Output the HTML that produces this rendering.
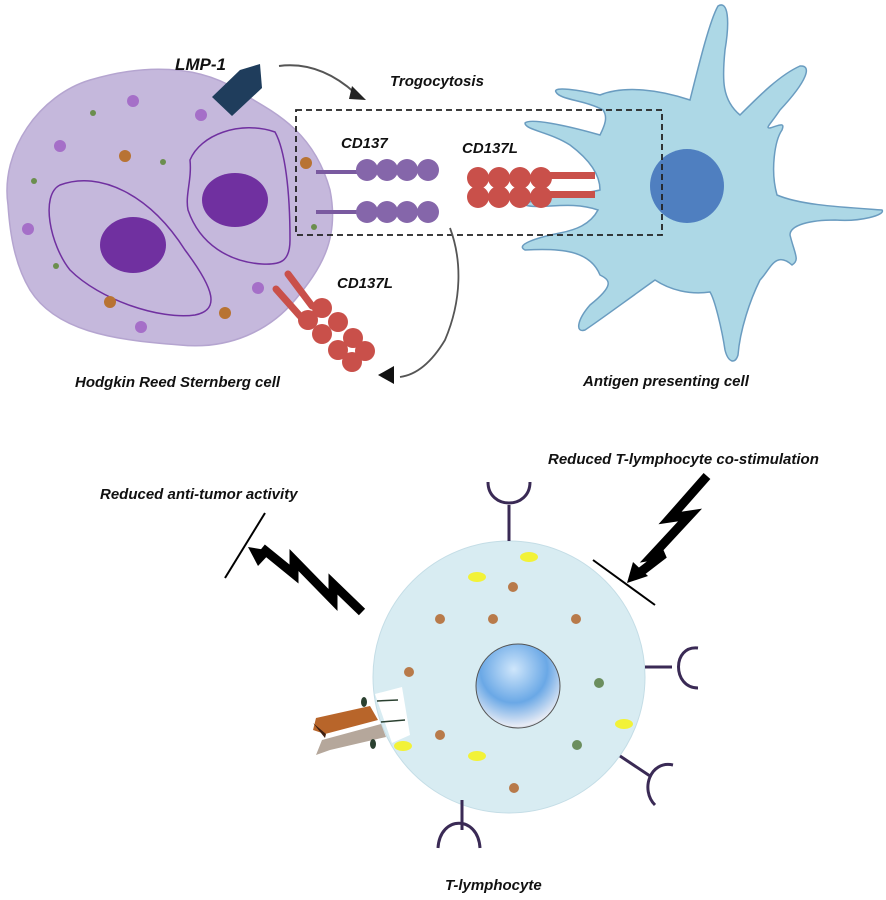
<!DOCTYPE html>
<html><head><meta charset="utf-8"><style>
body{margin:0;background:#fff;width:886px;height:895px;overflow:hidden}
text{font-family:"Liberation Sans",Arial,sans-serif;font-weight:bold;font-style:italic;fill:#111}
</style></head><body>
<svg width="886" height="895" viewBox="0 0 886 895" xmlns="http://www.w3.org/2000/svg">
<defs>
<radialGradient id="nuc" cx="0.45" cy="0.3" r="0.8">
<stop offset="0" stop-color="#cfe6fb"/><stop offset="0.5" stop-color="#6aa8e6"/><stop offset="0.85" stop-color="#e8ecf5"/><stop offset="1" stop-color="#6b6f8e"/></radialGradient>
</defs>
<!-- HRS cell -->
<path d="M8,205 C0,150 40,95 90,80 C140,65 200,62 245,95 C280,115 315,135 330,190 C340,240 320,270 295,300 C270,330 230,350 180,345 C110,340 55,330 30,290 C15,265 10,235 8,205Z" fill="#c5b8dc" stroke="#b5a5d0" stroke-width="1.5"/>
<path d="M60,185 C100,170 150,195 185,250 C215,290 220,310 195,315 C160,320 100,300 70,270 C50,245 40,195 60,185Z" fill="none" stroke="#7030a0" stroke-width="1.5"/>
<path d="M190,160 C200,135 240,120 275,132 C285,150 290,190 290,240 C290,262 280,265 262,264 C230,262 200,245 188,210 C185,195 192,180 190,160Z" fill="none" stroke="#7030a0" stroke-width="1.5"/>
<ellipse cx="133" cy="245" rx="33" ry="28" fill="#7030a0"/>
<ellipse cx="235" cy="200" rx="33" ry="27" fill="#7030a0"/>
<g fill="#a56fc8"><circle cx="133" cy="101" r="6"/><circle cx="201" cy="115" r="6"/><circle cx="60" cy="146" r="6"/><circle cx="28" cy="229" r="6"/><circle cx="141" cy="327" r="6"/><circle cx="258" cy="288" r="6"/></g>
<g fill="#b87333"><circle cx="125" cy="156" r="6"/><circle cx="306" cy="163" r="6"/><circle cx="110" cy="302" r="6"/><circle cx="225" cy="313" r="6"/></g>
<g fill="#6b8e4e"><circle cx="93" cy="113" r="3"/><circle cx="163" cy="162" r="3"/><circle cx="34" cy="181" r="3"/><circle cx="56" cy="266" r="3"/><circle cx="314" cy="227" r="3"/></g>
<!-- LMP-1 -->
<polygon points="212,97 240,70 260,64 262,88 232,116" fill="#1f3d5c"/>
<text x="175" y="70" font-size="17">LMP-1</text>
<path d="M279,66 C310,62 335,75 355,93" fill="none" stroke="#555" stroke-width="2"/>
<polygon points="352,86 366,100 349,99" fill="#222"/>
<text x="390" y="86" font-size="15">Trogocytosis</text>
<!-- APC -->
<path d="M603,110 C585,100 560,100 556,92 C552,86 580,90 600,95 C625,85 660,90 690,100 C700,60 710,20 718,6 C728,0 730,20 725,50 C722,80 722,100 740,115 C760,95 780,75 800,66 C812,65 808,80 780,110 C770,125 765,128 770,128 C780,125 785,122 782,130 C775,140 770,170 777,195 C800,205 840,207 882,210 C886,215 860,222 835,220 C810,220 790,225 790,235 C795,255 800,260 792,265 C775,250 770,270 760,280 C750,300 740,330 738,355 C735,365 728,362 725,350 C722,330 715,300 710,292 C690,295 670,290 655,280 C620,305 600,320 585,330 C575,333 577,320 590,305 C615,285 610,280 600,275 C590,250 560,248 525,250 C515,245 535,238 560,233 C575,230 590,225 598,210 C570,200 540,210 525,205 C535,195 570,197 600,190 C600,175 590,160 570,145 C550,132 525,130 525,123 C530,118 565,125 600,135 C605,125 608,117 603,110Z" fill="#add8e6" stroke="#6a9cc0" stroke-width="1.5"/>
<circle cx="687" cy="186" r="37" fill="#4f7fc0"/>
<text x="583" y="386" font-size="15">Antigen presenting cell</text>
<rect x="296" y="110" width="366" height="125" fill="none" stroke="#222" stroke-width="1.8" stroke-dasharray="6,4"/>
<text x="341" y="148" font-size="15">CD137</text>
<text x="462" y="153" font-size="15">CD137L</text>
<g stroke="#7a5aa0" stroke-width="4"><line x1="316" y1="172" x2="360" y2="172"/><line x1="316" y1="212" x2="360" y2="212"/></g>
<g fill="#8566aa"><circle cx="367" cy="170" r="11"/><circle cx="387" cy="170" r="11"/><circle cx="407" cy="170" r="11"/><circle cx="428" cy="170" r="11"/><circle cx="367" cy="212" r="11"/><circle cx="387" cy="212" r="11"/><circle cx="407" cy="212" r="11"/><circle cx="428" cy="212" r="11"/></g>
<g fill="#c9504a"><circle cx="478" cy="178" r="11"/><circle cx="499" cy="178" r="11"/><circle cx="520" cy="178" r="11"/><circle cx="541" cy="178" r="11"/><circle cx="478" cy="197" r="11"/><circle cx="499" cy="197" r="11"/><circle cx="520" cy="197" r="11"/><circle cx="541" cy="197" r="11"/>
<rect x="545" y="172" width="50" height="7"/><rect x="545" y="191" width="50" height="7"/></g>
<text x="337" y="288" font-size="15">CD137L</text>
<g stroke="#c9504a" stroke-width="7" stroke-linecap="round"><line x1="288" y1="274" x2="312" y2="306"/><line x1="276" y1="289" x2="300" y2="316"/></g>
<g fill="#c9504a"><circle cx="322" cy="308" r="10"/><circle cx="308" cy="320" r="10"/><circle cx="338" cy="322" r="10"/><circle cx="322" cy="334" r="10"/><circle cx="353" cy="338" r="10"/><circle cx="338" cy="350" r="10"/><circle cx="365" cy="351" r="10"/><circle cx="352" cy="362" r="10"/></g>
<path d="M450,228 C462,260 462,300 445,340 C430,365 415,375 400,377" fill="none" stroke="#555" stroke-width="1.8"/>
<polygon points="378,375 394,366 394,384" fill="#111"/>
<text x="75" y="387" font-size="15">Hodgkin Reed Sternberg cell</text>
<!-- T-lymphocyte -->
<circle cx="509" cy="677" r="136" fill="#d8ecf2" stroke="#c4dde6" stroke-width="1"/>
<circle cx="518" cy="686" r="42" fill="url(#nuc)" stroke="#555" stroke-width="1"/>
<g fill="#b87a4a"><circle cx="440" cy="619" r="5"/><circle cx="493" cy="619" r="5"/><circle cx="576" cy="619" r="5"/><circle cx="409" cy="672" r="5"/><circle cx="440" cy="735" r="5"/><circle cx="514" cy="788" r="5"/><circle cx="513" cy="587" r="5"/></g>
<g fill="#6b8e5e"><circle cx="599" cy="683" r="5"/><circle cx="577" cy="745" r="5"/></g>
<g fill="#f2f238"><ellipse cx="403" cy="746" rx="9" ry="5"/><ellipse cx="477" cy="756" rx="9" ry="5"/><ellipse cx="624" cy="724" rx="9" ry="5"/><ellipse cx="477" cy="577" rx="9" ry="5"/><ellipse cx="529" cy="557" rx="9" ry="5"/></g>
<polygon points="375,694 402,687 410,735 392,743" fill="#fff"/>
<g stroke="#2a4030" stroke-width="1.5"><line x1="377" y1="701" x2="398" y2="700"/><line x1="381" y1="722" x2="405" y2="720"/></g>
<polygon points="316,718 370,706 378,720 325,734 313,730" fill="#b8652a"/>
<polygon points="322,740 381,724 386,737 330,750 316,755" fill="#b5a79b"/>
<polygon points="313,723 326,734 325,738" fill="#402010"/>
<ellipse cx="364" cy="702" rx="3" ry="5" fill="#2a4030"/><ellipse cx="373" cy="744" rx="3" ry="5" fill="#2a4030"/>
<g fill="none" stroke="#3a2a55" stroke-width="3">
<path d="M509,541 V505 M488,482 C488,510 530,510 530,482"/>
<path d="M645,667 H672 M698,648 C672,645 672,688 698,688"/>
<path d="M620,756 L650,776 M673,765 C650,760 640,790 655,805"/>
<path d="M462,800 V830 M438,848 C440,815 478,815 480,848"/>
</g>
<text x="445" y="890" font-size="15">T-lymphocyte</text>
<!-- lightning bolts -->
<polyline points="362,612 333,584 333,600 294,560 294,574 262,548" fill="none" stroke="#000" stroke-width="9" stroke-linejoin="miter"/>
<polygon points="248,547 272,551 258,566" fill="#000"/>
<line x1="225" y1="578" x2="265" y2="513" stroke="#000" stroke-width="2"/>
<polyline points="707,476 670,518 690,515 652,556 664,554 638,574" fill="none" stroke="#000" stroke-width="9" stroke-linejoin="miter"/>
<polygon points="627,583 633,562 648,576" fill="#000"/>
<line x1="593" y1="560" x2="655" y2="605" stroke="#000" stroke-width="2"/>
<text x="100" y="499" font-size="15">Reduced anti-tumor activity</text>
<text x="548" y="464" font-size="15">Reduced T-lymphocyte co-stimulation</text>
</svg>
</body></html>
